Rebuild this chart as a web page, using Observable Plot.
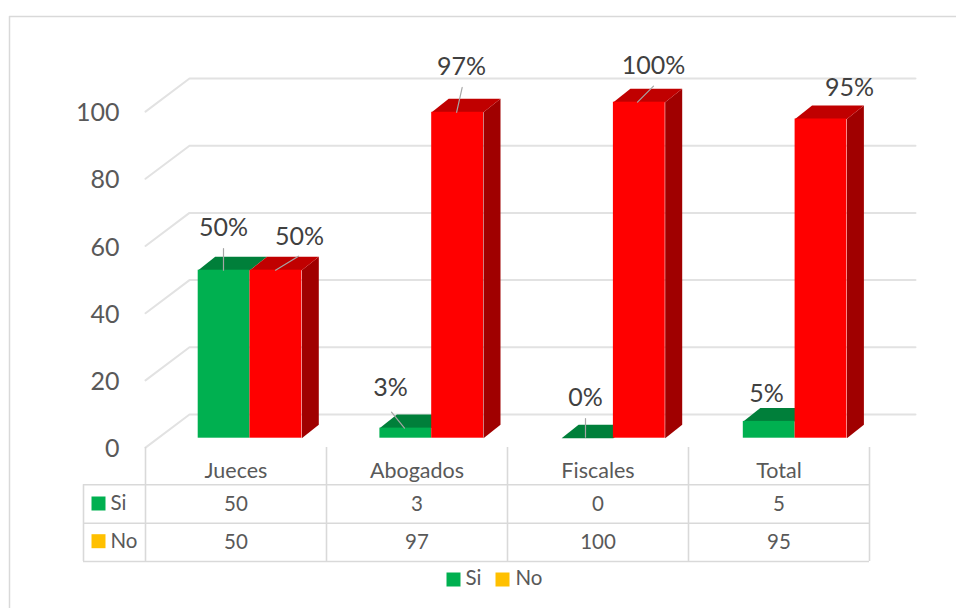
<!DOCTYPE html>
<html>
<head>
<meta charset="utf-8">
<script src="https://cdn.jsdelivr.net/npm/d3@7"></script>
<script src="https://cdn.jsdelivr.net/npm/@observablehq/plot@0.6"></script>
<style>html,body{margin:0;padding:0;background:#fff}</style>
</head>
<body>
<div id="chart"></div>
<script>
// --- data ---
const categories = ["Jueces", "Abogados", "Fiscales", "Total"];
const si = [50, 3, 0, 5];
const no = [50, 97, 100, 95];
const siPct = ["50%", "3%", "0%", "5%"];
const noPct = ["50%", "97%", "100%", "95%"];
const yTicks = [0, 20, 40, 60, 80, 100];
const seriesNames = ["Si", "No"];

// --- layout, in pixels; turned into scale units below ---
const W = 956, H = 608;
const cellPx = 181, originPx = 145;   // table column width, left edge of the first column
const zeroPx = 437.7, unitPx = 3.36;  // y of value 0 on the front plane, pixels per value
const ux = p => (p - originPx) / cellPx;
const uy = p => (zeroPx - p) / unitPx;
const barW = 51.8 / cellPx, barStart = 52.7 / cellPx, barPeriod = 181.7 / cellPx;
const depthX = 17 / cellPx, depthY = 13.5 / unitPx;
const colors = {si: "#00b050", siTop: "#007f3a", no: "#ff0000", noTop: "#c00000", noSide: "#a00000", noKey: "#ffc000"};
const gridColor = "#e2e2e2", tableColor = "#d9d9d9", textColor = "#595959", labelColor = "#404040", leaderColor = "#a6a6a6";

const siBars = categories.map((c, i) => ({c, i, v: si[i], x1: i * barPeriod + barStart, x2: i * barPeriod + barStart + barW}));
const noBars = categories.map((c, i) => ({c, i, v: no[i], x1: i * barPeriod + barStart + barW, x2: i * barPeriod + barStart + 2 * barW}));

const topFace = bars => bars.flatMap(b => [
  {k: b.c, x: b.x1, y: b.v}, {k: b.c, x: b.x2, y: b.v},
  {k: b.c, x: b.x2 + depthX, y: b.v + depthY}, {k: b.c, x: b.x1 + depthX, y: b.v + depthY}
]);
const sideFace = bars => bars.flatMap(b => [
  {k: b.c, x: b.x2, y: 0}, {k: b.c, x: b.x2, y: b.v},
  {k: b.c, x: b.x2 + depthX, y: b.v + depthY}, {k: b.c, x: b.x2 + depthX, y: depthY}
]);

// gridlines: front-left corner, back-left corner, back-right end
const gridFront = -2.8, gridBack = 7.05;
const gridPath = yTicks.flatMap(t => [
  {t, x: ux(145), y: t + gridFront}, {t, x: ux(189), y: t + gridBack}, {t, x: ux(915), y: t + gridBack}
]);

// label offsets from the front-top centre of each bar (pixels)
const siLabelOffset = [[-0.6, -42], [-15.3, -40], [-2, -40], [-2.7, -27]];
const noLabelOffset = [[+23.6, -33], [+3.9, -45], [+14.2, -36], [+28.5, -31.5]];
const barCx = b => (b.x1 + b.x2) / 2;
const labelRows = (bars, text, off) => bars.map((b, i) => ({
  text: text[i],
  x: barCx(b) + off[i][0] / cellPx,
  y: b.v - off[i][1] / unitPx
}));

// leader lines: offsets from the same point, [from, to]
const siLeader = [[[-0.6, 0], [-0.6, -21.5]], [[-1.3, 0], [-14.3, -16]], [[-2, -1], [-2, -19.5]], null];
const noLeader = [[[-0.4, 0], [+22.6, -14]], [[-1, 0], [+4.6, -24.8]], [[-1.8, 0], [+14.2, -16]], null];
const leaderRows = (bars, off) => bars.flatMap((b, i) => off[i] ? off[i].map(p => ({
  k: b.c, x: barCx(b) + p[0] / cellPx, y: b.v - p[1] / unitPx
})) : []);

// table geometry
const colEdges = d3.range(categories.length + 1);
const rowLines = [484.3, 522.7, 561];
const rowCentre = [504, 541.7];
const tableLeft = 83, tableHeadTop = 447;
const keyX = 98, keyLabelX = 110;
const legendY = 579, legendCentreY = 577.5;
const legendItems = [
  {name: seriesNames[0], key: colors.si, sx: 453, tx: 465},
  {name: seriesNames[1], key: colors.noKey, sx: 502, tx: 515}
];
const tableRows = [
  {name: seriesNames[0], key: colors.si, vals: si, y: rowCentre[0]},
  {name: seriesNames[1], key: colors.noKey, vals: no, y: rowCentre[1]}
];
const cells = tableRows.flatMap(r => r.vals.map((v, i) => ({v, x: i + 0.5, y: uy(r.y)})));
const frame = [{x: ux(9), y: uy(H)}, {x: ux(9), y: uy(16)}, {x: ux(W), y: uy(16)}];

const fs = {axis: 25, label: 25, table: 20.5, head: 21.5};

const plot = Plot.plot({
  width: W, height: H,
  marginLeft: 0, marginRight: 0, marginTop: 0, marginBottom: 0,
  style: {fontFamily: "Lato, sans-serif", background: "#fff"},
  x: {domain: [ux(0), ux(W)], range: [0, W]},
  y: {domain: [uy(H), uy(0)], range: [H, 0]},
  marks: [
    // chart frame
    Plot.line(frame, {x: "x", y: "y", stroke: tableColor, strokeWidth: 1.5}),

    // 3D gridlines
    Plot.line(gridPath, {x: "x", y: "y", z: "t", stroke: gridColor, strokeWidth: 2, curve: "linear"}),

    // value axis
    Plot.axisY({anchor: "left", ticks: yTicks, tickSize: 0, tickPadding: 0, dx: 119, dy: 11,
      fontSize: fs.axis, color: textColor, label: null, tickFormat: d => String(d)}),

    // Si bars
    Plot.line(topFace(siBars), {x: "x", y: "y", z: "k", fill: colors.siTop, stroke: "none"}),
    Plot.rect(siBars, {x1: "x1", x2: "x2", y1: 0, y2: "v", fill: colors.si}),

    // No bars
    Plot.line(sideFace(noBars), {x: "x", y: "y", z: "k", fill: colors.noSide, stroke: "none"}),
    Plot.line(topFace(noBars), {x: "x", y: "y", z: "k", fill: colors.noTop, stroke: "none"}),
    Plot.rect(noBars, {x1: "x1", x2: "x2", y1: 0, y2: "v", fill: colors.no}),

    // leader lines
    Plot.line(leaderRows(siBars, siLeader), {x: "x", y: "y", z: "k", stroke: leaderColor, strokeWidth: 1.2}),
    Plot.line(leaderRows(noBars, noLeader), {x: "x", y: "y", z: "k", stroke: leaderColor, strokeWidth: 1.2}),

    // data labels
    Plot.text(labelRows(siBars, siPct, siLabelOffset), {x: "x", y: "y", text: "text", fontSize: fs.label, fill: labelColor}),
    Plot.text(labelRows(noBars, noPct, noLabelOffset), {x: "x", y: "y", text: "text", fontSize: fs.label, fill: labelColor}),

    // data table: rules
    Plot.ruleX(colEdges, {x: d => d, y1: uy(tableHeadTop), y2: uy(rowLines[2]), stroke: tableColor, strokeWidth: 1.6}),
    Plot.ruleX([ux(tableLeft)], {y1: uy(rowLines[0]), y2: uy(rowLines[2]), stroke: tableColor, strokeWidth: 1.6}),
    Plot.ruleY(rowLines.map(uy), {x1: ux(tableLeft), x2: categories.length, stroke: tableColor, strokeWidth: 1.6}),

    // data table: category header
    Plot.axisX({anchor: "bottom", ticks: categories.map((c, i) => i + 0.5), tickSize: 0, tickPadding: 0,
      tickFormat: d => categories[Math.floor(d)], label: null, fontSize: fs.head, color: textColor,
      lineAnchor: "middle", dy: -137}),

    // data table: values
    Plot.text(cells, {x: "x", y: "y", text: d => String(d.v), fontSize: fs.table, fill: textColor}),

    // data table: row keys
    Plot.dot(tableRows, {x: () => ux(keyX), y: d => uy(d.y - 1), symbol: "square", r: 7.9, fill: d => d.key}),
    Plot.text(tableRows, {x: () => ux(keyLabelX), y: d => uy(d.y - 1), text: "name", textAnchor: "start", fontSize: fs.table, fill: textColor}),

    // legend
    Plot.dot(legendItems, {x: d => ux(d.sx), y: () => uy(legendY), symbol: "square", r: 7.9, fill: d => d.key}),
    Plot.text(legendItems, {x: d => ux(d.tx), y: () => uy(legendCentreY), text: "name", textAnchor: "start", fontSize: fs.table, fill: textColor})
  ]
});
document.getElementById("chart").appendChild(plot);
</script>
</body>
</html>
